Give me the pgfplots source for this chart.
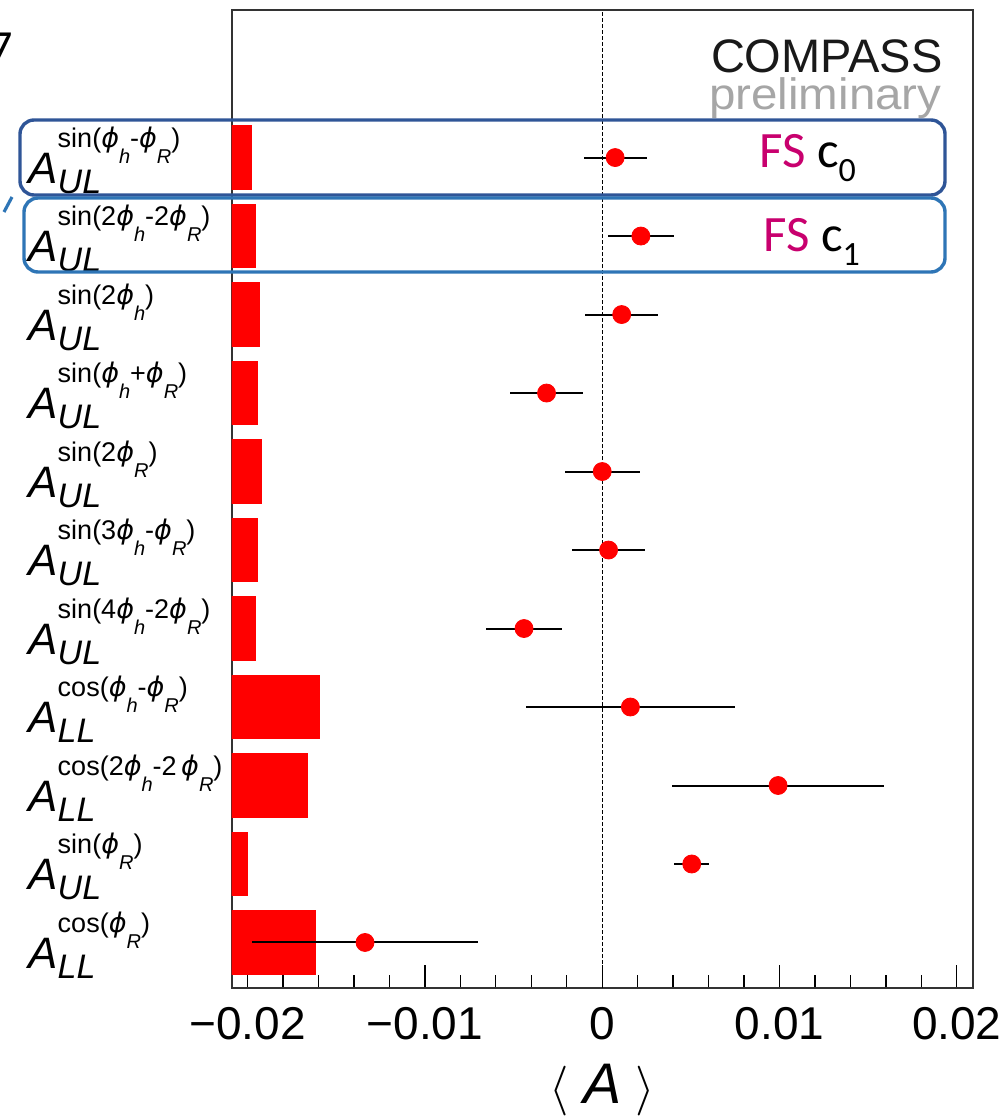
\documentclass[border=0pt]{standalone}
\usepackage{fontspec}
\setmainfont{Liberation Sans}
\newfontfamily\calib{Carlito}
\newfontfamily\dvs{DejaVu Sans}
\usepackage{pgfplots}
\pgfplotsset{compat=1.18}
\definecolor{boxA}{RGB}{47,85,151}
\definecolor{boxB}{RGB}{46,117,182}
\definecolor{fsmag}{RGB}{200,0,110}
\newcommand{\ph}[1]{{\dvs\itshape ϕ}\raisebox{-8pt}{\fontsize{10}{10}\selectfont\textit{#1}}}
\newcommand{\asy}[2]{{\fontsize{22}{22}\selectfont\textit{A}}\rlap{\raisebox{18pt}{\fontsize{13.5}{13.5}\selectfont #1}}\raisebox{-5pt}{\fontsize{17}{17}\selectfont\textit{#2}}}
\begin{document}
\begin{tikzpicture}
\begin{axis}[
  at={(115.85pt,-494pt)}, anchor=south west,
  scale only axis, width=370.5pt, height=489pt,
  xmin=-0.0209, xmax=0.0209, ymin=0.42, ymax=12.88,
  scaled x ticks=false,
  axis line style={black!80, line width=0.8pt},
  xtick={-0.02,-0.01,0,0.01,0.02},
  xticklabels={−0.02,−0.01,0,0.01,0.02},
  minor x tick num=4,
  xtick pos=left, ytick pos=left, tick align=inside,
  major tick length=11.5pt, minor tick length=6.5pt,
  tick style={black, line width=0.65pt},
  ytick={1,...,11}, ytick style={draw=none},
  xticklabel style={font=\fontsize{23}{23}\selectfont, anchor=base, yshift=-25.5pt, inner sep=0pt},
  yticklabel style={anchor=base west, xshift=-101.85pt, yshift=-12.9pt, inner sep=0pt},
  yticklabels={
    {\asy{cos(\ph{R})}{LL}},
    {\asy{sin(\ph{R})}{UL}},
    {\asy{cos(2\ph{h}-2\,\ph{R})}{LL}},
    {\asy{cos(\ph{h}-\ph{R})}{LL}},
    {\asy{sin(4\ph{h}-2\ph{R})}{UL}},
    {\asy{sin(3\ph{h}-\ph{R})}{UL}},
    {\asy{sin(2\ph{R})}{UL}},
    {\asy{sin(\ph{h}+\ph{R})}{UL}},
    {\asy{sin(2\ph{h})}{UL}},
    {\asy{sin(2\ph{h}-2\ph{R})}{UL}},
    {\asy{sin(\ph{h}-\ph{R})}{UL}}
  },
  xlabel={$\langle$\hspace{7pt}\textit{A}\hspace{7pt}$\rangle$},
  xlabel style={at={(axis description cs:0.5,0)}, anchor=base, yshift=-57.5pt, inner sep=0pt, font=\fontsize{28.6}{28.6}\selectfont},
]
% systematic uncertainty bars (right edge values)
\addplot[fill=red, draw=none] coordinates {(-0.03,0.59) (-0.01615,0.59) (-0.01615,1.41) (-0.03,1.41)};
\addplot[fill=red, draw=none] coordinates {(-0.03,1.59) (-0.02000,1.59) (-0.02000,2.41) (-0.03,2.41)};
\addplot[fill=red, draw=none] coordinates {(-0.03,2.59) (-0.01660,2.59) (-0.01660,3.41) (-0.03,3.41)};
\addplot[fill=red, draw=none] coordinates {(-0.03,3.59) (-0.01593,3.59) (-0.01593,4.41) (-0.03,4.41)};
\addplot[fill=red, draw=none] coordinates {(-0.03,4.59) (-0.01955,4.59) (-0.01955,5.41) (-0.03,5.41)};
\addplot[fill=red, draw=none] coordinates {(-0.03,5.59) (-0.01944,5.59) (-0.01944,6.41) (-0.03,6.41)};
\addplot[fill=red, draw=none] coordinates {(-0.03,6.59) (-0.01921,6.59) (-0.01921,7.41) (-0.03,7.41)};
\addplot[fill=red, draw=none] coordinates {(-0.03,7.59) (-0.01944,7.59) (-0.01944,8.41) (-0.03,8.41)};
\addplot[fill=red, draw=none] coordinates {(-0.03,8.59) (-0.01932,8.59) (-0.01932,9.41) (-0.03,9.41)};
\addplot[fill=red, draw=none] coordinates {(-0.03,9.59) (-0.01955,9.59) (-0.01955,10.41) (-0.03,10.41)};
\addplot[fill=red, draw=none] coordinates {(-0.03,10.59) (-0.01977,10.59) (-0.01977,11.41) (-0.03,11.41)};
% zero line
\addplot[black, line width=0.5pt, dash pattern=on 2pt off 1pt] coordinates {(0,0.42) (0,12.88)};
% asymmetries
\addplot[only marks, mark=*, mark size=4.5pt, color=red,
  error bars/.cd, x dir=both, x explicit, error mark=none,
  error bar style={black, line width=1pt}]
  table[x=x, y=y, x error=e] {
x y e
-0.01338 1 0.0064
0.00505 2 0.0010
0.00992 3 0.0060
0.00159 4 0.0059
-0.00441 5 0.00213
0.00036 6 0.00208
0.00000 7 0.00212
-0.00314 8 0.00207
0.00110 9 0.00207
0.00218 10 0.00185
0.00073 11 0.00178
};
\end{axis}
% annotations
\node[anchor=base east, inner sep=0pt, black!90] at (471.5pt,-36.5pt) {\fontsize{23.5}{23.5}\selectfont COMPASS};
\node[anchor=base east, inner sep=0pt, black!35] at (471pt,-55pt) {\scalebox{1.08}[1]{\fontsize{22}{22}\selectfont preliminary}};
\draw[boxA, line width=1.7pt, rounded corners=7pt] (10pt,-60pt) rectangle (472.5pt,-97.5pt);
\draw[boxB, line width=1.7pt, rounded corners=7pt] (12pt,-99pt) rectangle (472.5pt,-136pt);
\node[anchor=base west, inner sep=0pt] at (379.5pt,-84pt) {\calib\fontsize{25.5}{25.5}\selectfont\textcolor{fsmag}{FS} c\raisebox{-7pt}{\fontsize{17}{17}\selectfont 0}};
\node[anchor=base west, inner sep=0pt] at (381.5pt,-126pt) {\calib\fontsize{25.5}{25.5}\selectfont\textcolor{fsmag}{FS} c\raisebox{-7pt}{\fontsize{17}{17}\selectfont 1}};
\node[anchor=base east, inner sep=0pt] at (6.5pt,-31.5pt) {\calib\fontsize{23}{23}\selectfont 7};
\draw[boxB, line width=1.6pt] (6pt,-98.5pt) -- (2pt,-106pt);
\pgfresetboundingbox
\path[use as bounding box] (0,0) rectangle (502.5pt,-558.5pt);
\end{tikzpicture}
\end{document}
